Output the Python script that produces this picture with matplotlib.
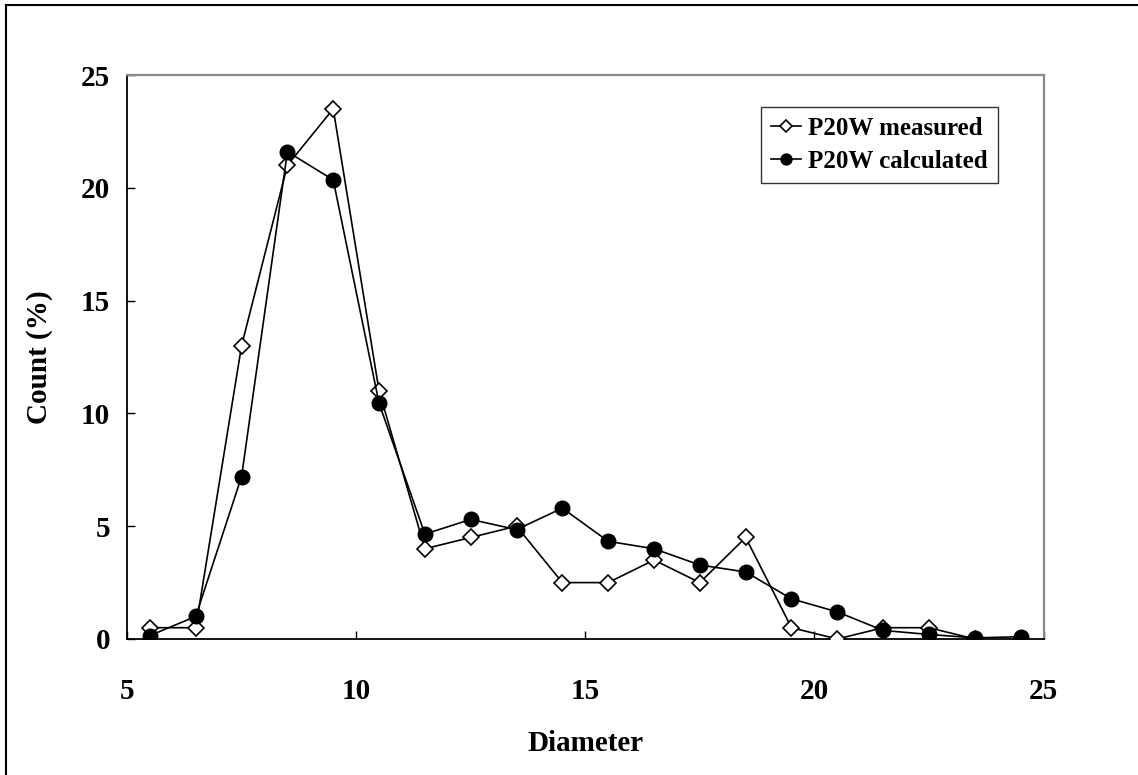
import numpy as np
import matplotlib
matplotlib.use('Agg')
import matplotlib.pyplot as plt
from matplotlib.lines import Line2D

# Particle size distribution, P20W sample
diameter = [5.5, 6.5, 7.5, 8.5, 9.5, 10.5, 11.5, 12.5, 13.5, 14.5, 15.5, 16.5,
            17.5, 18.5, 19.5, 20.5, 21.5, 22.5, 23.5, 24.5]
measured = [0.5, 0.5, 13.0, 21.0, 23.5, 11.0, 4.0, 4.5, 5.0, 2.5, 2.5, 3.5,
            2.5, 4.5, 0.5, 0.0, 0.5, 0.5, 0.0]
calculated = [0.15, 1.0, 7.2, 21.6, 20.35, 10.45, 4.65, 5.3, 4.85, 5.8, 4.33, 4.0,
              3.28, 2.97, 1.78, 1.2, 0.38, 0.2, 0.05, 0.1]

x_ticks = [5, 10, 15, 20, 25]
y_ticks = [0, 5, 10, 15, 20, 25]

plt.rcParams['font.family'] = ['Liberation Serif', 'DejaVu Serif']
plt.rcParams['font.weight'] = 'bold'

fig = plt.figure(figsize=(11.38, 7.75), dpi=100)
ax = fig.add_axes([0.1116, 0.1755, 0.8054, 0.7277])

ax.plot(diameter[:len(measured)], measured, color='black', lw=1.2,
        marker='D', markersize=8, markerfacecolor='white', markeredgecolor='black',
        markeredgewidth=1.2, label='P20W measured', zorder=3)
ax.plot(diameter, calculated, color='black', lw=1.2,
        marker='o', markersize=10.5, markerfacecolor='black', markeredgecolor='black',
        label='P20W calculated', zorder=4)

ax.set_xlim(5, 25)
ax.set_ylim(0, 25)
ax.set_xticks(x_ticks)
ax.set_yticks(y_ticks)
ax.tick_params(axis='both', direction='in', length=6, width=1, labelsize=21)
ax.tick_params(axis='x', pad=28)
ax.tick_params(axis='y', pad=12)
for lab in ax.get_xticklabels() + ax.get_yticklabels():
    lab.set_fontweight('bold')

for side in ['left', 'bottom']:
    ax.spines[side].set_color('black')
    ax.spines[side].set_linewidth(1.3)
for side in ['top', 'right']:
    ax.spines[side].set_color('#8a8a8a')
    ax.spines[side].set_linewidth(1.6)

ax.set_xlabel('Diameter', fontsize=21, fontweight='bold', labelpad=18)
ax.set_ylabel('Count (%)', fontsize=21, fontweight='bold', labelpad=20)

leg = ax.legend(loc='upper right', bbox_to_anchor=(0.950, 0.943), fontsize=18,
                frameon=True, fancybox=False, edgecolor='black', handlelength=1.2,
                handletextpad=0.3, borderpad=0.4, labelspacing=0.4, borderaxespad=0,
                markerscale=0.75)
leg.get_frame().set_linewidth(1.0)
for t in leg.get_texts():
    t.set_fontweight('bold')

# outer frame lines along the top and left of the canvas
fig.add_artist(Line2D([0.0053, 0.0053], [0.0, 0.9935], color='black', lw=1.5,
                      transform=fig.transFigure))
fig.add_artist(Line2D([0.0053, 1.0], [0.9935, 0.9935], color='black', lw=1.5,
                      transform=fig.transFigure))

fig.savefig('out.png', dpi=100, facecolor='white')
